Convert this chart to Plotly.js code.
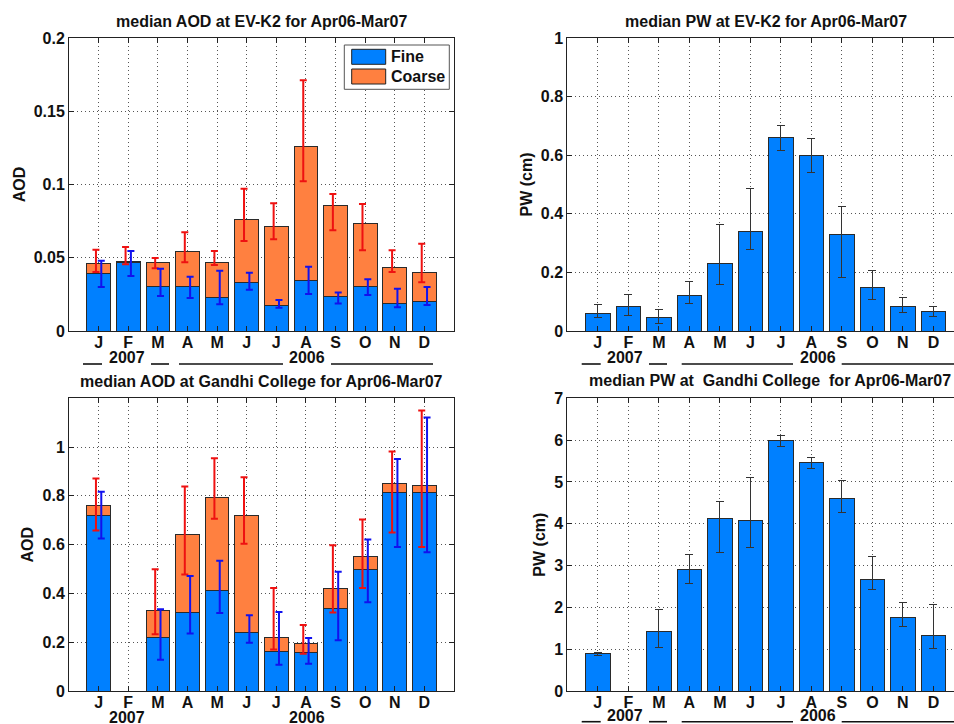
<!DOCTYPE html>
<html>
<head>
<meta charset="utf-8">
<script src="https://cdn.plot.ly/plotly-3.0.1.min.js"></script>
<style>html,body{margin:0;padding:0;background:#fff}#chart{width:954px;height:724px}</style>
</head>
<body>
<div id="chart"></div>
<script>
// ---------- data ----------
const months = ['J','F','M','A','M','J','J','A','S','O','N','D'];
const years = ['2007','2006'];
const seriesNames = ['Fine','Coarse'];

// EV-K2 AOD (fine / coarse stacked), error bounds
const evFine   = [0.0394,0.0468,0.0305,0.0305,0.0232,0.0334,0.0175,0.0346,0.0237,0.0305,0.0189,0.0200];
const evCoarse = [0.0066,0.0005,0.0166,0.0236,0.0239,0.0428,0.0540,0.0915,0.0618,0.0428,0.0246,0.0201];
const evTotHi  = [0.0555,0.0573,0.0498,0.0674,0.0546,0.0971,0.0872,0.1711,0.0935,0.0867,0.0551,0.0596];
const evTotLo  = [0.0403,0.0455,0.0428,0.0469,0.0451,0.0614,0.0626,0.1022,0.0687,0.0551,0.0403,0.0332];
const evFineHi = [0.0480,0.0546,0.0425,0.0371,0.0412,0.0398,0.0212,0.0439,0.0262,0.0353,0.0289,0.0300];
const evFineLo = [0.0300,0.0375,0.0239,0.0225,0.0182,0.0282,0.0159,0.0253,0.0187,0.0246,0.0162,0.0177];

// Gandhi College AOD
const gcFine   = [0.7205,null,0.2179,0.3215,0.4101,0.2411,0.1621,0.1580,0.3364,0.4973,0.8146,0.8120];
const gcCoarse = [0.0410,null,0.1120,0.3190,0.3840,0.4770,0.0590,0.0380,0.0830,0.0530,0.0350,0.0310];
const gcTotHi  = [0.871,null,0.499,0.838,0.954,0.876,0.422,0.271,0.598,0.703,0.982,1.150];
const gcTotLo  = [0.658,null,0.233,0.478,0.706,0.604,0.170,0.153,0.322,0.422,0.650,0.590];
const gcFineHi = [0.817,null,0.335,0.471,0.534,0.311,0.324,0.217,0.489,0.621,0.951,1.121];
const gcFineLo = [0.625,null,0.128,0.236,0.320,0.198,0.108,0.112,0.208,0.364,0.590,0.569];

// EV-K2 PW
const evPW   = [0.060,0.084,0.046,0.122,0.232,0.338,0.661,0.599,0.331,0.148,0.084,0.066];
const evPWHi = [0.090,0.124,0.072,0.169,0.365,0.488,0.703,0.658,0.426,0.207,0.116,0.084];
const evPWLo = [0.046,0.054,0.026,0.095,0.160,0.279,0.616,0.541,0.183,0.107,0.063,0.048];

// Gandhi College PW
const gcPW   = [0.885,null,1.411,2.910,4.114,4.082,5.987,5.469,4.608,2.663,1.762,1.331];
const gcPWHi = [0.917,null,1.953,3.261,4.528,5.102,6.099,5.581,5.031,3.213,2.113,2.065];
const gcPWLo = [0.853,null,1.044,2.559,3.301,3.436,5.844,5.326,4.257,2.416,1.547,1.020];

// ---------- helpers ----------
const pos = months.map((m,i)=>i+1);
const add = (a,b)=>a.map((v,i)=>v==null?null:v+b[i]);
const up  = (hi,v)=>hi.map((h,i)=>h==null?null:h-v[i]);
const dn  = (lo,v)=>lo.map((l,i)=>l==null?null:v[i]-l);
const shift = d => pos.map(p=>p+d);

const FINE='rgb(0,128,255)', COARSE='rgb(255,128,64)';
const barLine={color:'#2a2a2a',width:1};
const fnt = (s)=>({family:'Liberation Sans, Arial, sans-serif',size:s,color:'#111',weight:'bold'});

function stackTraces(fine, coarse, totHi, totLo, fHi, fLo, xa, ya){
  const tot = add(fine, coarse);
  return [
    {type:'bar',x:pos,y:fine,width:0.8,name:seriesNames[0],marker:{color:FINE,line:barLine},xaxis:xa,yaxis:ya,showlegend:false,hoverinfo:'skip'},
    {type:'bar',x:pos,y:coarse,width:0.8,name:seriesNames[1],marker:{color:COARSE,line:barLine},xaxis:xa,yaxis:ya,showlegend:false,hoverinfo:'skip'},
    {type:'scatter',mode:'markers',x:shift(-0.09),y:tot,marker:{size:1,color:'rgba(0,0,0,0)'},xaxis:xa,yaxis:ya,showlegend:false,hoverinfo:'skip',
     error_y:{type:'data',symmetric:false,array:up(totHi,tot),arrayminus:dn(totLo,tot),color:'#ee1111',thickness:2,width:3.5}},
    {type:'scatter',mode:'markers',x:shift(0.09),y:fine,marker:{size:1,color:'rgba(0,0,0,0)'},xaxis:xa,yaxis:ya,showlegend:false,hoverinfo:'skip',
     error_y:{type:'data',symmetric:false,array:up(fHi,fine),arrayminus:dn(fLo,fine),color:'#1111ee',thickness:2,width:3.5}}
  ];
}
function pwTrace(v,hi,lo,xa,ya){
  return {type:'bar',x:pos,y:v,width:0.8,marker:{color:FINE,line:barLine},xaxis:xa,yaxis:ya,showlegend:false,hoverinfo:'skip',
    error_y:{type:'data',symmetric:false,array:up(hi,v),arrayminus:dn(lo,v),color:'#333',thickness:1,width:4}};
}

const data = [
  ...stackTraces(evFine,evCoarse,evTotHi,evTotLo,evFineHi,evFineLo,'x','y'),
  pwTrace(evPW,evPWHi,evPWLo,'x2','y2'),
  ...stackTraces(gcFine,gcCoarse,gcTotHi,gcTotLo,gcFineHi,gcFineLo,'x3','y3'),
  pwTrace(gcPW,gcPWHi,gcPWLo,'x4','y4')
];

const W=954,H=724;
const px = v=>v/W, py = v=>1-v/H;
const GRID = {showgrid:true, griddash:'1px,3px', gridcolor:'#555', gridwidth:1};

function xax(domain, range, anchor, mirror){
  return {domain, range, anchor, tickvals:pos, ticktext:months, ...GRID,
    showline:true, linecolor:'#222', linewidth:1, mirror:mirror, ticks:'inside', ticklen:5, tickcolor:'#222',
    tickfont:fnt(16), ticklabelstandoff:-3, zeroline:false, fixedrange:true};
}
function yax(domain, range, anchor, tickvals, title, mirror, standoff){
  return {domain, range, anchor, tickvals, ...GRID,
    showline:true, linecolor:'#222', linewidth:1, mirror:mirror, ticks:'inside', ticklen:5, tickcolor:'#222',
    tickfont:fnt(16), zeroline:false, fixedrange:true, title:{text:title, font:fnt(16), standoff:standoff}};
}

const topD=[py(331),py(38)], botD=[py(691),py(398.3)];
const leftX=[px(69),px(454)], rightX=[px(567.3),1];

function note(text, x, y, xanchor){
  return {text, x:px(x), y:py(y), xref:'paper', yref:'paper', xanchor:xanchor||'center', yanchor:'middle', showarrow:false, font:fnt(16)};
}
function box(x0,x1,y0,y1,fill,line){
  return {type:'rect', xref:'paper', yref:'paper', x0:px(x0), x1:px(x1), y0:py(y1), y1:py(y0), fillcolor:fill, line:line, layer:'above'};
}
// underline segments beside the year labels (the "__ 2007 __  ____ 2006 ____" row)
function rule(x0,x1,y){
  return {type:'line', xref:'paper', yref:'paper', x0:px(x0), x1:px(x1), y0:py(y), y1:py(y), line:{color:'#111',width:1.6}, layer:'above'};
}
const leftRules  = [[83,102],[151,169],[179,283],[331,433]];
const rightRules = [[581.7,600.7],[649,667],[681.7,793],[841.7,954]];

const layout = {
  width:W, height:H, margin:{l:0,r:0,t:0,b:0}, paper_bgcolor:'#fff', plot_bgcolor:'#fff',
  barmode:'stack', showlegend:false,
  xaxis: xax(leftX,[0,13],'y','ticks'),
  yaxis: yax(topD,[0,0.2],'x',[0,0.05,0.1,0.15,0.2],'AOD','ticks',4),
  xaxis2: xax(rightX,[0,12.675],'y2','ticks'),
  yaxis2: yax(topD,[0,1],'x2',[0,0.2,0.4,0.6,0.8,1],'PW (cm)',false,4),
  xaxis3: xax(leftX,[0,13],'y3','ticks'),
  yaxis3: yax(botD,[0,1.2],'x3',[0,0.2,0.4,0.6,0.8,1],'AOD','ticks',4),
  xaxis4: xax(rightX,[0,12.675],'y4','ticks'),
  yaxis4: yax(botD,[0,7],'x4',[0,1,2,3,4,5,6,7],'PW (cm)',false,4),
  shapes:[
    // legend frame and swatches (top-left panel)
    box(344.3,449.3,45,89.3,'#fff',{color:'#555',width:1}),
    box(351.7,385.7,49.3,64.3,FINE,{color:'#222',width:1}),
    box(351.7,385.7,69,84,COARSE,{color:'#222',width:1}),
    ...leftRules.map(r=>rule(r[0],r[1],364)),
    ...rightRules.map(r=>rule(r[0],r[1],364)),
    ...rightRules.map(r=>rule(r[0],r[1],721.7))
  ],
  annotations:[
    note(seriesNames[0],389.3,57,'left'),
    note(seriesNames[1],389.3,76.8,'left'),
    note('median AOD at EV-K2 for Apr06-Mar07',261.5,22),
    note('median PW at EV-K2 for Apr06-Mar07',765.5,22),
    note('median AOD at Gandhi College for Apr06-Mar07',261.7,381.5),
    note('median PW at\u00a0 Gandhi College\u00a0 for Apr06-Mar07',770.3,380.7),
    note(years[0],126.5,357),
    note(years[1],306.5,357),
    note(years[0],625,357),
    note(years[1],817.5,357),
    note(years[0],126.7,717),
    note(years[1],306.7,717),
    note(years[0],625,715),
    note(years[1],818,715)
  ]
};

Plotly.newPlot('chart', data, layout, {displayModeBar:false, staticPlot:true});
</script>
</body>
</html>
